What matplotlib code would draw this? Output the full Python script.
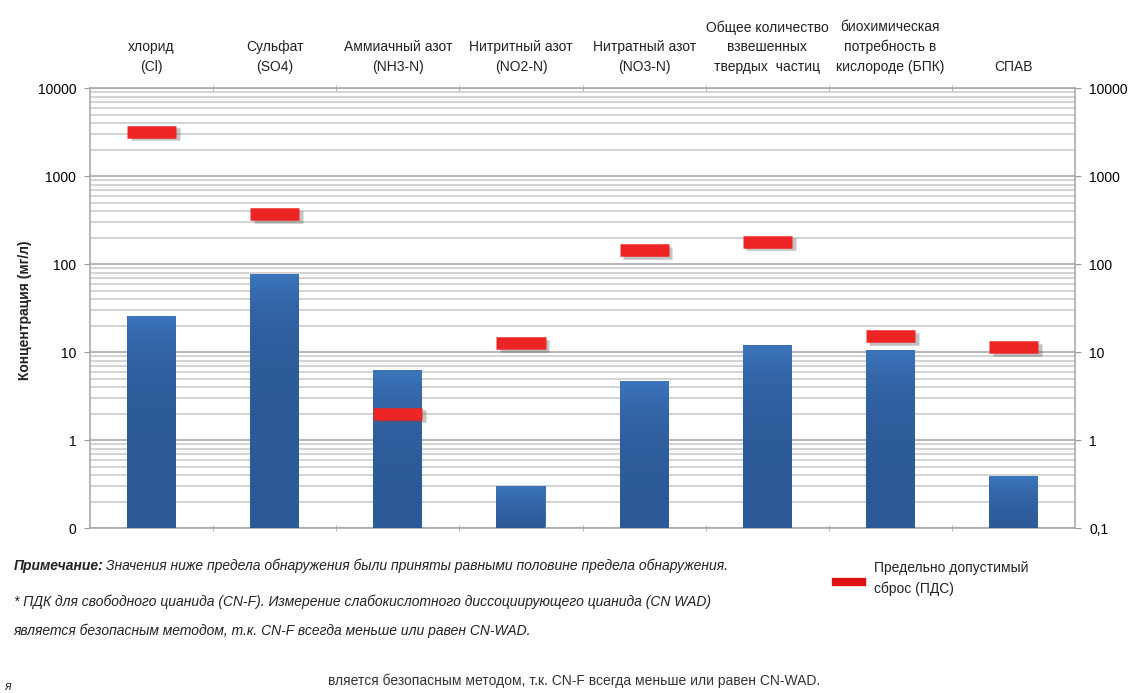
import numpy as np
import matplotlib.pyplot as plt
from matplotlib.colors import LinearSegmentedColormap
from matplotlib.ticker import FixedLocator, FixedFormatter, NullFormatter

plt.rcParams['font.family'] = ['Liberation Sans', 'DejaVu Sans']

# parameters along the top axis
categories = ['хлорид\n(Cl)', 'Сульфат\n(SO4)', 'Аммиачный азот\n(NH3-N)', 'Нитритный азот\n(NO2-N)',
              'Нитратный азот\n(NO3-N)', 'Общее количество\nвзвешенных\nтвердых  частиц',
              'биохимическая\nпотребность в\nкислороде (БПК)', 'СПАВ']
# measured concentrations, mg/l
measured = [26, 77, 6.2, 0.30, 4.7, 12, 10.5, 0.39]
# maximum permissible discharge, mg/l
limits = [3200, 370, 2.0, 12.6, 145, 180, 15.2, 11.4]

y_ticks = [0.1, 1, 10, 100, 1000, 10000]
left_labels = ['0', '1', '10', '100', '1000', '10000']
right_labels = ['0,1', '1', '10', '100', '1000', '10000']

fig = plt.figure(figsize=(11.31, 6.93), dpi=100)
ax = fig.add_axes([0.0796, 0.238, 0.871, 0.635])

x = np.arange(len(categories))
ax.set_yscale('log')

# horizontal grid: decades and the 2..9 subdivisions
minor = [m * 10.0 ** e for e in range(-1, 4) for m in range(2, 10)]
for v in minor:
    ax.axhline(v, color='#d0d0d0', lw=1.3, zorder=0)
for v in y_ticks:
    ax.axhline(v, color='#b8b8b8', lw=1.5, zorder=0)

# bars with a vertical shade
bar_w = 0.4
shade = LinearSegmentedColormap.from_list('shade', ['#2c5a98', '#3d76bd'])
for xi, v in zip(x, measured):
    ax.bar(xi, v - 0.1, bottom=0.1, width=bar_w, color='#3a6fb5', zorder=2)
    grad = np.linspace(0, 1, 100).reshape(-1, 1)
    ax.imshow(grad, extent=(xi - bar_w / 2, xi + bar_w / 2, 0.1, v), aspect='auto',
              cmap=shade, origin='lower', zorder=3)

# permissible discharge marks with a soft shadow
for xi, v in zip(x, limits):
    ax.hlines(v * 0.93, xi - bar_w / 2 + 0.03, xi + bar_w / 2 + 0.03, color='#555555', lw=9, alpha=0.35, zorder=4)
    ax.hlines(v, xi - bar_w / 2, xi + bar_w / 2, color='#ec2424', lw=9, zorder=5)

ax.set_xlim(-0.5, len(categories) - 0.5)
ax.set_ylim(0.1, 10000)

ax.yaxis.set_major_locator(FixedLocator(y_ticks))
ax.yaxis.set_major_formatter(FixedFormatter(left_labels))
ax.yaxis.set_minor_formatter(NullFormatter())
ax.tick_params(axis='y', which='minor', length=0)
ax.tick_params(axis='y', which='major', length=4, color='#999999', labelsize=10, pad=6)

ax.set_xticks([])
ax.xaxis.set_minor_locator(FixedLocator(np.arange(0.5, len(categories) - 0.5, 1)))
ax.tick_params(axis='x', which='minor', length=4, color='#aaaaaa', top=True, direction='inout')

for s in ax.spines.values():
    s.set_color('#aaaaaa')
    s.set_linewidth(1.2)

ax2 = ax.twinx()
ax2.set_yscale('log')
ax2.set_ylim(0.1, 10000)
ax2.yaxis.set_major_locator(FixedLocator(y_ticks))
ax2.yaxis.set_major_formatter(FixedFormatter(right_labels))
ax2.yaxis.set_minor_formatter(NullFormatter())
ax2.tick_params(axis='y', which='minor', length=0)
ax2.tick_params(axis='y', which='major', length=4, color='#999999', labelsize=10, pad=6)
for s in ax2.spines.values():
    s.set_visible(False)

for xi, lab in zip(x, categories):
    ax.text(xi, 1.032, lab, transform=ax.get_xaxis_transform(), ha='center', va='bottom',
            fontsize=10, linespacing=1.5, color='#222222')

fig.text(0.022, 0.553, 'Концентрация (мг/л)', rotation=90, ha='center', va='center',
         fontsize=10, fontweight='bold', color='#222222')

# notes under the chart
fig.text(0.012, 0.178, 'Примечание:', fontsize=10, fontstyle='italic', fontweight='bold', color='#222222')
fig.text(0.094, 0.178, 'Значения ниже предела обнаружения были приняты равными половине предела обнаружения.',
         fontsize=10, fontstyle='italic', color='#222222')
fig.text(0.012, 0.125, '* ПДК для свободного цианида (CN-F). Измерение слабокислотного диссоциирующего цианида (CN WAD)',
         fontsize=10, fontstyle='italic', color='#222222')
fig.text(0.012, 0.083, 'является безопасным методом, т.к. CN-F всегда меньше или равен CN-WAD.',
         fontsize=10, fontstyle='italic', color='#222222')
fig.text(0.508, 0.012, 'вляется безопасным методом, т.к. CN-F всегда меньше или равен CN-WAD.',
         fontsize=10, ha='center', color='#333333')
fig.text(0.004, 0.005, 'я', fontsize=9, fontstyle='italic', color='#333333')

# legend entry
fig.lines.append(plt.Line2D([0.739, 0.762], [0.160, 0.160], transform=fig.transFigure,
                            color='#dd1111', lw=6))
fig.text(0.773, 0.145, 'Предельно допустимый\nсброс (ПДС)', fontsize=10, color='#222222', linespacing=1.5)

fig.savefig('out.png', dpi=100)
